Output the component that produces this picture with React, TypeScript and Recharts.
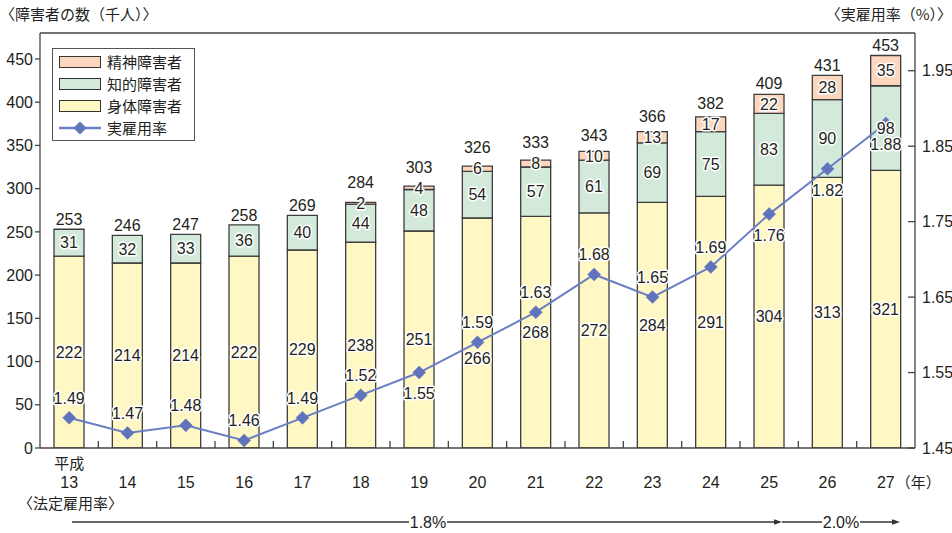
import React from 'react';
import { ComposedChart, Bar, Line, XAxis, YAxis, LabelList, Legend } from 'recharts';

// ---- data ----
const years = ['13', '14', '15', '16', '17', '18', '19', '20', '21', '22', '23', '24', '25', '26', '27'];
const physical = [222, 214, 214, 222, 229, 238, 251, 266, 268, 272, 284, 291, 304, 313, 321];
const intellectual = [31, 32, 33, 36, 40, 44, 48, 54, 57, 61, 69, 75, 83, 90, 98];
const mental = [0, 0, 0, 0, 0, 2, 4, 6, 8, 10, 13, 17, 22, 28, 35];
const totals = [253, 246, 247, 258, 269, 284, 303, 326, 333, 343, 366, 382, 409, 431, 453];
const rates = [1.49, 1.47, 1.48, 1.46, 1.49, 1.52, 1.55, 1.59, 1.63, 1.68, 1.65, 1.69, 1.76, 1.82, 1.88];
const leftTicks = [0, 50, 100, 150, 200, 250, 300, 350, 400, 450];
const rightTicks = [1.45, 1.55, 1.65, 1.75, 1.85, 1.95];

const data = years.map((year, i) => ({
  year,
  physical: physical[i],
  intellectual: intellectual[i],
  mental: mental[i],
  total: totals[i],
  rate: rates[i],
}));

// ---- layout / style ----
const W = 952;
const H = 533;
const PLOT_L = 40;
const PLOT_R = 915;
const PLOT_T = 33;
const PLOT_B = 448;
const FONT = '"Liberation Sans", Arial, "Noto Sans CJK JP", sans-serif';
const JFONT = '"Noto Sans CJK JP", "Liberation Sans", sans-serif';
const INK = '#231f20';
const AXIS = '#444';
const C_PHYS = '#fff8c4';
const C_INTEL = '#d3eadb';
const C_MENTAL = '#fcd6bd';
const C_LINE = '#6a7ec3';
const C_DOT = '#6073bd';
const BAR_STROKE = '#3d3d3d';

const RATE_LABEL_BELOW = new Set(['19', '25', '26', '27']);
const BODY_LABEL_NUDGE: Record<string, number> = { '20': 25 };

const halo = {
  stroke: '#fff',
  strokeWidth: 3,
  paintOrder: 'stroke' as const,
  strokeLinejoin: 'round' as const,
  fill: INK,
  fontSize: 16,
  fontFamily: FONT,
};

const SegLabel = (props: any) => {
  const { x, y, width, height, value } = props;
  if (!value) return null;
  return (
    <text x={x + width / 2} y={y + height / 2} dy="0.36em" textAnchor="middle" {...halo}>
      {value}
    </text>
  );
};

const BodyLabel = (props: any) => {
  const { x, y, width, height, value, index } = props;
  if (!value) return null;
  const nudge = BODY_LABEL_NUDGE[years[index]] || 0;
  return (
    <text x={x + width / 2} y={y + height / 2 + nudge} dy="0.36em" textAnchor="middle" {...halo}>
      {value}
    </text>
  );
};

// total above the intellectual segment, only where the stack has no mental segment
const TotalOnIntel = (props: any) => {
  const { x, y, width, value, index } = props;
  if (value == null || mental[index] > 0) return null;
  return (
    <text x={x + width / 2} y={y - 10} dy="0.36em" textAnchor="middle" {...halo}>
      {value}
    </text>
  );
};

// the mental bar only yields label entries for non-empty segments;
// the total sits clear of the segment's own label
const TotalOnMental = (props: any) => {
  const { x, y, width, height, value } = props;
  if (value == null || !height) return null;
  const ty = Math.min(y - 10, y + height / 2 - 21);
  return (
    <text x={x + width / 2} y={ty} dy="0.36em" textAnchor="middle" {...halo}>
      {value}
    </text>
  );
};

const RateLabel = (props: any) => {
  const { x, y, value, index } = props;
  const below = RATE_LABEL_BELOW.has(years[index]);
  return (
    <text x={x} y={below ? y + 21 : y - 20} dy="0.36em" textAnchor="middle" {...halo}>
      {Number(value).toFixed(2)}
    </text>
  );
};

const Diamond = (props: any) => {
  const { cx, cy } = props;
  if (cx == null || cy == null) return null;
  const r = 6.5;
  return (
    <polygon
      points={`${cx},${cy - r} ${cx + r},${cy} ${cx},${cy + r} ${cx - r},${cy}`}
      fill={C_DOT}
      stroke={C_DOT}
      strokeWidth={0.5}
    />
  );
};

const XTick = (props: any) => {
  const { x, y, payload, index } = props;
  const band = (PLOT_R - PLOT_L) / years.length;
  const last = index === years.length - 1;
  return (
    <g>
      {!last && (
        <line x1={x + band / 2} x2={x + band / 2} y1={y} y2={y - 7} stroke={AXIS} strokeWidth={1.3} />
      )}
      {index === 0 && (
        <text x={x} y={y + 21} textAnchor="middle" fill={INK} fontSize={15} fontFamily={JFONT}>
          平成
        </text>
      )}
      <text x={x} y={y + 40} textAnchor="middle" fill={INK} fontSize={16} fontFamily={FONT}>
        {payload.value}
      </text>
      {last && (
        <text x={x + 10} y={y + 40} textAnchor="start" fill={INK} fontSize={15} fontFamily={JFONT}>
          （年）
        </text>
      )}
    </g>
  );
};

const RTick = (props: any) => {
  const { x, y, payload } = props;
  return (
    <g>
      <line x1={x - 7} x2={x} y1={y} y2={y} stroke={AXIS} strokeWidth={1.3} />
      <text x={x + 7} y={y} dy="0.36em" textAnchor="start" fill={INK} fontSize={16} fontFamily={FONT}>
        {Number(payload.value).toFixed(2)}
      </text>
    </g>
  );
};

const legendRows = [
  { name: '精神障害者', kind: 'box', color: C_MENTAL },
  { name: '知的障害者', kind: 'box', color: C_INTEL },
  { name: '身体障害者', kind: 'box', color: C_PHYS },
  { name: '実雇用率', kind: 'line', color: C_LINE },
];

const LegendBox = () => (
  <div
    style={{
      border: '1.5px solid #555',
      background: '#fff',
      boxSizing: 'border-box',
      width: 143,
      height: 93,
      padding: '2px 0 0 6px',
      fontFamily: JFONT,
      fontSize: 15,
      color: INK,
    }}
  >
    {legendRows.map((r) => (
      <div key={r.name} style={{ display: 'flex', alignItems: 'center', height: 22 }}>
        {r.kind === 'box' ? (
          <div
            style={{
              width: 42,
              height: 12,
              background: r.color,
              border: '1.5px solid #333',
              boxSizing: 'border-box',
            }}
          />
        ) : (
          <svg width={42} height={14} style={{ display: 'block' }}>
            <line x1={0} x2={42} y1={7} y2={7} stroke={C_LINE} strokeWidth={2.5} />
            <polygon points="21,0.5 27.5,7 21,13.5 14.5,7" fill={C_DOT} />
          </svg>
        )}
        <span style={{ marginLeft: 6, lineHeight: '22px' }}>{r.name}</span>
      </div>
    ))}
  </div>
);

const Arrow = ({ x1, x2, y }: { x1: number; x2: number; y: number }) => (
  <g>
    <line x1={x1} x2={x2 - 5} y1={y} y2={y} stroke="#333" strokeWidth={1.3} />
    <polygon points={`${x2},${y} ${x2 - 8},${y - 2.8} ${x2 - 8},${y + 2.8}`} fill="#333" />
  </g>
);

const LawLabel = ({ x, y, text }: { x: number; y: number; text: string }) => (
  <g>
    <rect x={x - 19} y={y - 9} width={38} height={18} fill="#fff" />
    <text x={x} y={y} dy="0.36em" textAnchor="middle" fill={INK} fontSize={16} fontFamily={FONT}>
      {text}
    </text>
  </g>
);

export default function App() {
  return (
    <div style={{ position: 'absolute', left: 0, top: 0, width: W, height: H, background: '#fff' }}>
      <ComposedChart
        width={W}
        height={H}
        data={data}
        margin={{ top: PLOT_T, right: 0, bottom: 0, left: 0 }}
        barCategoryGap="24%"
      >
        <XAxis
          dataKey="year"
          xAxisId={0}
          height={H - PLOT_B}
          interval={0}
          tickLine={false}
          tickSize={0}
          tickMargin={0}
          tick={<XTick />}
          axisLine={{ stroke: AXIS, strokeWidth: 1.3 }}
        />
        <YAxis
          yAxisId="left"
          orientation="left"
          width={PLOT_L}
          domain={[0, 480]}
          ticks={leftTicks}
          interval={0}
          allowDataOverflow
          tickSize={5}
          tickMargin={2}
          tick={{ fontSize: 16, fill: INK, fontFamily: FONT }}
          tickLine={{ stroke: AXIS, strokeWidth: 1.3 }}
          axisLine={{ stroke: AXIS, strokeWidth: 1.3 }}
        />
        <YAxis
          yAxisId="right"
          orientation="right"
          width={W - PLOT_R}
          domain={[1.45, 2.0]}
          ticks={rightTicks}
          interval={0}
          allowDataOverflow
          tickSize={0}
          tickMargin={0}
          tickLine={false}
          tick={<RTick />}
          axisLine={{ stroke: AXIS, strokeWidth: 1.3 }}
        />
        <Legend
          layout="vertical"
          align="center"
          verticalAlign="middle"
          content={<LegendBox />}
          wrapperStyle={{ left: 52, top: 48, width: 143, height: 93 }}
        />
        <Bar
          dataKey="physical"
          name="身体障害者"
          stackId="s"
          yAxisId="left"
          fill={C_PHYS}
          stroke={BAR_STROKE}
          strokeWidth={1.3}
          isAnimationActive={false}
        >
          <LabelList dataKey="physical" content={<BodyLabel />} />
        </Bar>
        <Bar
          dataKey="intellectual"
          name="知的障害者"
          stackId="s"
          yAxisId="left"
          fill={C_INTEL}
          stroke={BAR_STROKE}
          strokeWidth={1.3}
          isAnimationActive={false}
        >
          <LabelList dataKey="intellectual" content={<SegLabel />} />
          <LabelList dataKey="total" content={<TotalOnIntel />} />
        </Bar>
        <Bar
          dataKey="mental"
          name="精神障害者"
          stackId="s"
          yAxisId="left"
          fill={C_MENTAL}
          stroke={BAR_STROKE}
          strokeWidth={1.3}
          isAnimationActive={false}
        >
          <LabelList dataKey="mental" content={<SegLabel />} />
          <LabelList dataKey="total" content={<TotalOnMental />} />
        </Bar>
        <Line
          dataKey="rate"
          name="実雇用率"
          yAxisId="right"
          type="linear"
          stroke={C_LINE}
          strokeWidth={2}
          dot={<Diamond />}
          activeDot={false}
          isAnimationActive={false}
        >
          <LabelList dataKey="rate" content={<RateLabel />} />
        </Line>
      </ComposedChart>
      <svg
        width={W}
        height={H}
        style={{ position: 'absolute', left: 0, top: 0, pointerEvents: 'none' }}
      >
        <line x1={PLOT_L} x2={PLOT_R} y1={PLOT_T} y2={PLOT_T} stroke={AXIS} strokeWidth={1.3} />
        <text x={0} y={20} fill={INK} fontSize={15} fontFamily={JFONT}>
          〈障害者の数（千人）〉
        </text>
        <text x={952} y={20} textAnchor="end" fill={INK} fontSize={15} fontFamily={JFONT}>
          〈実雇用率（%）〉
        </text>
        <text x={18} y={509} fill={INK} fontSize={15} fontFamily={JFONT}>
          〈法定雇用率〉
        </text>
        <Arrow x1={72} x2={782} y={522} />
        <Arrow x1={782} x2={900} y={522} />
        <LawLabel x={428} y={522} text="1.8%" />
        <LawLabel x={841} y={522} text="2.0%" />
      </svg>
    </div>
  );
}
